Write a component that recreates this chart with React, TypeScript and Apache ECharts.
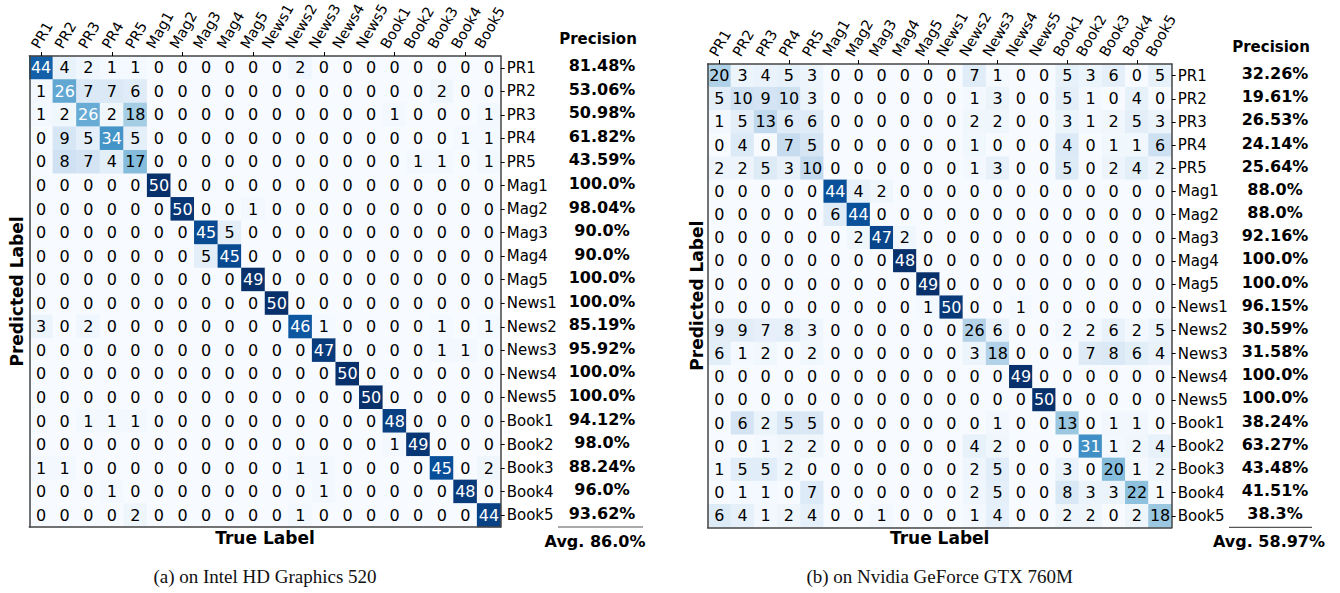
import React, { useEffect, useRef } from "react";
import * as echarts from "echarts";

const classes = [
  "PR1", "PR2", "PR3", "PR4", "PR5",
  "Mag1", "Mag2", "Mag3", "Mag4", "Mag5",
  "News1", "News2", "News3", "News4", "News5",
  "Book1", "Book2", "Book3", "Book4", "Book5",
];

// rows = predicted label, columns = true label
const matrixA: number[][] = [
  [44, 4, 2, 1, 1, 0, 0, 0, 0, 0, 0, 2, 0, 0, 0, 0, 0, 0, 0, 0],
  [1, 26, 7, 7, 6, 0, 0, 0, 0, 0, 0, 0, 0, 0, 0, 0, 0, 2, 0, 0],
  [1, 2, 26, 2, 18, 0, 0, 0, 0, 0, 0, 0, 0, 0, 0, 1, 0, 0, 0, 1],
  [0, 9, 5, 34, 5, 0, 0, 0, 0, 0, 0, 0, 0, 0, 0, 0, 0, 0, 1, 1],
  [0, 8, 7, 4, 17, 0, 0, 0, 0, 0, 0, 0, 0, 0, 0, 0, 1, 1, 0, 1],
  [0, 0, 0, 0, 0, 50, 0, 0, 0, 0, 0, 0, 0, 0, 0, 0, 0, 0, 0, 0],
  [0, 0, 0, 0, 0, 0, 50, 0, 0, 1, 0, 0, 0, 0, 0, 0, 0, 0, 0, 0],
  [0, 0, 0, 0, 0, 0, 0, 45, 5, 0, 0, 0, 0, 0, 0, 0, 0, 0, 0, 0],
  [0, 0, 0, 0, 0, 0, 0, 5, 45, 0, 0, 0, 0, 0, 0, 0, 0, 0, 0, 0],
  [0, 0, 0, 0, 0, 0, 0, 0, 0, 49, 0, 0, 0, 0, 0, 0, 0, 0, 0, 0],
  [0, 0, 0, 0, 0, 0, 0, 0, 0, 0, 50, 0, 0, 0, 0, 0, 0, 0, 0, 0],
  [3, 0, 2, 0, 0, 0, 0, 0, 0, 0, 0, 46, 1, 0, 0, 0, 0, 1, 0, 1],
  [0, 0, 0, 0, 0, 0, 0, 0, 0, 0, 0, 0, 47, 0, 0, 0, 0, 1, 1, 0],
  [0, 0, 0, 0, 0, 0, 0, 0, 0, 0, 0, 0, 0, 50, 0, 0, 0, 0, 0, 0],
  [0, 0, 0, 0, 0, 0, 0, 0, 0, 0, 0, 0, 0, 0, 50, 0, 0, 0, 0, 0],
  [0, 0, 1, 1, 1, 0, 0, 0, 0, 0, 0, 0, 0, 0, 0, 48, 0, 0, 0, 0],
  [0, 0, 0, 0, 0, 0, 0, 0, 0, 0, 0, 0, 0, 0, 0, 1, 49, 0, 0, 0],
  [1, 1, 0, 0, 0, 0, 0, 0, 0, 0, 0, 1, 1, 0, 0, 0, 0, 45, 0, 2],
  [0, 0, 0, 1, 0, 0, 0, 0, 0, 0, 0, 0, 1, 0, 0, 0, 0, 0, 48, 0],
  [0, 0, 0, 0, 2, 0, 0, 0, 0, 0, 0, 1, 0, 0, 0, 0, 0, 0, 0, 44],
];

const matrixB: number[][] = [
  [20, 3, 4, 5, 3, 0, 0, 0, 0, 0, 0, 7, 1, 0, 0, 5, 3, 6, 0, 5],
  [5, 10, 9, 10, 3, 0, 0, 0, 0, 0, 0, 1, 3, 0, 0, 5, 1, 0, 4, 0],
  [1, 5, 13, 6, 6, 0, 0, 0, 0, 0, 0, 2, 2, 0, 0, 3, 1, 2, 5, 3],
  [0, 4, 0, 7, 5, 0, 0, 0, 0, 0, 0, 1, 0, 0, 0, 4, 0, 1, 1, 6],
  [2, 2, 5, 3, 10, 0, 0, 0, 0, 0, 0, 1, 3, 0, 0, 5, 0, 2, 4, 2],
  [0, 0, 0, 0, 0, 44, 4, 2, 0, 0, 0, 0, 0, 0, 0, 0, 0, 0, 0, 0],
  [0, 0, 0, 0, 0, 6, 44, 0, 0, 0, 0, 0, 0, 0, 0, 0, 0, 0, 0, 0],
  [0, 0, 0, 0, 0, 0, 2, 47, 2, 0, 0, 0, 0, 0, 0, 0, 0, 0, 0, 0],
  [0, 0, 0, 0, 0, 0, 0, 0, 48, 0, 0, 0, 0, 0, 0, 0, 0, 0, 0, 0],
  [0, 0, 0, 0, 0, 0, 0, 0, 0, 49, 0, 0, 0, 0, 0, 0, 0, 0, 0, 0],
  [0, 0, 0, 0, 0, 0, 0, 0, 0, 1, 50, 0, 0, 1, 0, 0, 0, 0, 0, 0],
  [9, 9, 7, 8, 3, 0, 0, 0, 0, 0, 0, 26, 6, 0, 0, 2, 2, 6, 2, 5],
  [6, 1, 2, 0, 2, 0, 0, 0, 0, 0, 0, 3, 18, 0, 0, 0, 7, 8, 6, 4],
  [0, 0, 0, 0, 0, 0, 0, 0, 0, 0, 0, 0, 0, 49, 0, 0, 0, 0, 0, 0],
  [0, 0, 0, 0, 0, 0, 0, 0, 0, 0, 0, 0, 0, 0, 50, 0, 0, 0, 0, 0],
  [0, 6, 2, 5, 5, 0, 0, 0, 0, 0, 0, 0, 1, 0, 0, 13, 0, 1, 1, 0],
  [0, 0, 1, 2, 2, 0, 0, 0, 0, 0, 0, 4, 2, 0, 0, 0, 31, 1, 2, 4],
  [1, 5, 5, 2, 0, 0, 0, 0, 0, 0, 0, 2, 5, 0, 0, 3, 0, 20, 1, 2],
  [0, 1, 1, 0, 7, 0, 0, 0, 0, 0, 0, 2, 5, 0, 0, 8, 3, 3, 22, 1],
  [6, 4, 1, 2, 4, 0, 0, 1, 0, 0, 0, 1, 4, 0, 0, 2, 2, 0, 2, 18],
];

const precisionA = [
  "81.48%", "53.06%", "50.98%", "61.82%", "43.59%",
  "100.0%", "98.04%", "90.0%", "90.0%", "100.0%",
  "100.0%", "85.19%", "95.92%", "100.0%", "100.0%",
  "94.12%", "98.0%", "88.24%", "96.0%", "93.62%",
];
const precisionB = [
  "32.26%", "19.61%", "26.53%", "24.14%", "25.64%",
  "88.0%", "88.0%", "92.16%", "100.0%", "100.0%",
  "96.15%", "30.59%", "31.58%", "100.0%", "100.0%",
  "38.24%", "63.27%", "43.48%", "41.51%", "38.3%",
];
const avgA = "86.0%";
const avgB = "58.97%";
const captionA = "(a) on Intel HD Graphics 520";
const captionB = "(b) on Nvidia GeForce GTX 760M";

// colour = share of the predicted row; white text above half of the max share
const blues = [
  "#f7fbff", "#deebf7", "#c6dbef", "#9ecae1", "#6baed6",
  "#4292c6", "#2171b5", "#08519c", "#08306b",
];

const FONT = "DejaVu Sans";

function cells(m: number[][]) {
  const out: any[] = [];
  const norms = m.map((row) => {
    const s = row.reduce((a, b) => a + b, 0);
    return row.map((v) => (s > 0 ? v / s : 0));
  });
  const maxN = Math.max(...norms.map((r) => Math.max(...r)));
  m.forEach((row, r) => {
    row.forEach((v, c) => {
      const n = norms[r][c];
      out.push({
        value: [c, r, n, v],
        label: { color: n > maxN / 2 ? "#ffffff" : "#000000" },
      });
    });
  });
  return out;
}

const panels = [
  {
    grid: { left: 29.3, top: 56, width: 471.4, height: 471 },
    matrix: matrixA, precision: precisionA, avg: avgA, caption: captionA,
    precX: 602, headerY: 39, lineX: [558, 643], avgX: 595, ylabX: 17,
  },
  {
    grid: { left: 707.7, top: 64, width: 464, height: 463.4 },
    matrix: matrixB, precision: precisionB, avg: avgB, caption: captionB,
    precX: 1275, headerY: 47, lineX: [1229, 1312], avgX: 1269, ylabX: 697,
  },
];

const edgeLine = { show: true, lineStyle: { color: "#444", width: 1.5 } };

export default function App() {
  const ref = useRef<HTMLDivElement>(null);
  useEffect(() => {
    if (!ref.current) return;
    const chart = echarts.init(ref.current, null, { renderer: "svg" });
    const xAxes: any[] = [];
    const yAxes: any[] = [];
    const series: any[] = [];
    const visualMaps: any[] = [];
    panels.forEach((p, i) => {
      xAxes.push({
        gridIndex: i, type: "category", data: classes, position: "top", z: 10,
        axisLine: edgeLine,
        axisTick: { show: true, alignWithLabel: true, length: 4, lineStyle: { color: "#000" } },
        axisLabel: { show: false }, splitLine: { show: false },
      });
      xAxes.push({
        gridIndex: i, type: "category", data: classes, position: "bottom", z: 10,
        axisLine: edgeLine, axisTick: { show: false }, axisLabel: { show: false },
      });
      yAxes.push({
        gridIndex: i, type: "category", data: classes, position: "right", inverse: true, z: 10,
        axisLine: edgeLine,
        axisTick: { show: true, alignWithLabel: true, length: 4, lineStyle: { color: "#000" } },
        axisLabel: { show: true, fontSize: 15, fontFamily: FONT, color: "#000", margin: 6 },
        splitLine: { show: false },
      });
      yAxes.push({
        gridIndex: i, type: "category", data: classes, position: "left", inverse: true, z: 10,
        axisLine: edgeLine, axisTick: { show: false }, axisLabel: { show: false },
      });
      series.push({
        type: "heatmap", xAxisIndex: i * 2, yAxisIndex: i * 2,
        data: cells(p.matrix),
        label: {
          show: true, fontSize: 16, fontFamily: FONT,
          formatter: (q: any) => String(q.value[3]),
        },
        itemStyle: { borderWidth: 0 },
        emphasis: { disabled: true },
      });
      visualMaps.push({
        show: false, seriesIndex: i, dimension: 2, min: 0, max: 1,
        inRange: { color: blues },
      });
    });

    chart.setOption({
      animation: false,
      grid: panels.map((p) => ({ ...p.grid, containLabel: false })),
      xAxis: xAxes,
      yAxis: yAxes,
      visualMap: visualMaps,
      series,
    });

    const canvas = document.createElement("canvas");
    const ctx = canvas.getContext("2d")!;
    const labelSize = 14.5;
    ctx.font = `${labelSize}px "${FONT}"`;
    const theta = (60 * Math.PI) / 180;
    const h = labelSize * 1.17;

    const graphics: any[] = [];
    panels.forEach((p, i) => {
      const top = p.grid.top;
      const bottom = p.grid.top + p.grid.height;
      const cx = p.grid.left + p.grid.width / 2;
      const cy = p.grid.top + p.grid.height / 2;
      classes.forEach((c, k) => {
        const x = chart.convertToPixel({ xAxisIndex: i * 2 }, c) as number;
        const w = ctx.measureText(c).width;
        graphics.push({
          type: "text",
          x: x - (w * Math.cos(theta) - h * Math.sin(theta)) / 2,
          y: top - 5,
          rotation: theta,
          style: {
            text: c, fontSize: labelSize, fontFamily: FONT, fill: "#000",
            textAlign: "left", textVerticalAlign: "bottom",
          },
        });
        const y = chart.convertToPixel({ yAxisIndex: i * 2 }, c) as number;
        graphics.push({
          type: "text", x: p.precX, y: y - 2,
          style: {
            text: p.precision[k], fontSize: 16, fontWeight: "bold", fontFamily: FONT,
            fill: "#000", textAlign: "center", textVerticalAlign: "middle",
          },
        });
      });
      graphics.push({
        type: "text", x: p.precX - 4, y: p.headerY,
        style: {
          text: "Precision", fontSize: 15, fontWeight: "bold", fontFamily: FONT,
          fill: "#000", textAlign: "center", textVerticalAlign: "middle",
        },
      });
      graphics.push({
        type: "line",
        shape: { x1: p.lineX[0], y1: bottom, x2: p.lineX[1], y2: bottom },
        style: { stroke: "#555", lineWidth: 1.2 },
      });
      graphics.push({
        type: "text", x: p.avgX, y: bottom + 14,
        style: {
          text: "Avg. " + p.avg, fontSize: 16, fontWeight: "bold", fontFamily: FONT,
          fill: "#000", textAlign: "center", textVerticalAlign: "middle",
        },
      });
      graphics.push({
        type: "text", x: p.ylabX, y: cy, rotation: Math.PI / 2,
        style: {
          text: "Predicted Label", fontSize: 17, fontWeight: "bold", fontFamily: FONT,
          fill: "#000", textAlign: "center", textVerticalAlign: "middle",
        },
      });
      graphics.push({
        type: "text", x: cx, y: bottom + 11,
        style: {
          text: "True Label", fontSize: 17, fontWeight: "bold", fontFamily: FONT,
          fill: "#000", textAlign: "center", textVerticalAlign: "middle",
        },
      });
      graphics.push({
        type: "text", x: cx, y: 576,
        style: {
          text: p.caption, fontSize: 19, fontFamily: "Liberation Serif",
          fill: "#111", textAlign: "center", textVerticalAlign: "middle",
        },
      });
    });
    chart.setOption({ graphic: graphics });

    return () => chart.dispose();
  }, []);
  return (
    <div
      ref={ref}
      style={{ position: "absolute", left: 0, top: 0, width: 1340, height: 593, background: "#fff" }}
    />
  );
}
